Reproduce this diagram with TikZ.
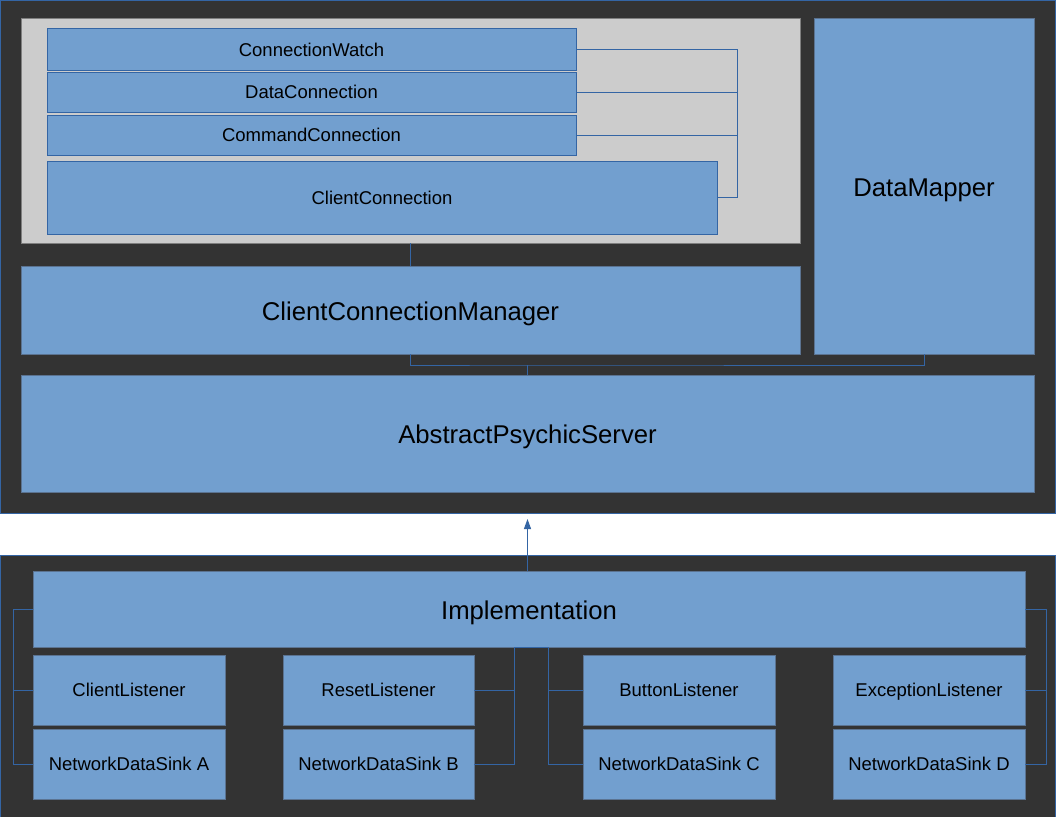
\documentclass[tikz,border=0pt]{standalone}
\usepackage{fontspec}
\setmainfont{Liberation Sans}
\usetikzlibrary{arrows.meta}
\definecolor{panel}{HTML}{333333}
\definecolor{boxfill}{HTML}{729FCF}
\definecolor{lineblue}{HTML}{3465A4}
\definecolor{edgegrey}{HTML}{5B7391}
\definecolor{greyfill}{HTML}{CCCCCC}
\definecolor{greyedge}{HTML}{7F7F7F}
\tikzset{
  basebox/.style={rectangle, fill=boxfill, inner sep=0pt, outer sep=0pt, line width=1pt, text=black},
  smalltext/.style={font=\fontsize{18.5}{20}\selectfont, text height=13.5pt, text depth=0pt},
  bigtext/.style={font=\fontsize{25.7}{28}\selectfont, text height=20pt, text depth=0pt},
  smallbox/.style={basebox, draw=lineblue, smalltext},
  listbox/.style={basebox, draw=edgegrey, smalltext},
  bigbox/.style={basebox, draw=edgegrey, bigtext},
  container/.style={rectangle, fill=greyfill, draw=greyedge, line width=1pt, inner sep=0pt, outer sep=0pt},
  conn/.style={draw=lineblue, line width=1pt},
  panelbox/.style={fill=panel, draw=lineblue, line width=1pt}
}
\begin{document}
\begin{tikzpicture}[x=1pt, y=-1pt]
\useasboundingbox (0,0) rectangle (1056,816);
\fill[white] (0,0) rectangle (1056,816);
% panels
\draw[panelbox] (0.5,0.5) rectangle (1055.5,513);
\draw[panelbox] (0.5,555) rectangle (1055.5,817);
% top group
\node[container, minimum width=779pt, minimum height=224pt] (grp) at (410.5,131) {};
\node[smallbox, minimum width=529pt, minimum height=41pt] (cw) at (311.5,49.5) {ConnectionWatch};
\node[smallbox, minimum width=529pt, minimum height=40pt] (dc) at (311.5,92) {DataConnection};
\node[smallbox, minimum width=529pt, minimum height=40pt] (cc) at (311.5,135) {CommandConnection};
\node[smallbox, minimum width=670pt, minimum height=73pt] (clc) at (382,197.5) {ClientConnection};
\node[bigbox, minimum width=779pt, minimum height=88pt] (ccm) at (410.5,310) {ClientConnectionManager};
\node[bigbox, minimum width=220pt, minimum height=335pt] (dm) at (924,186.5) {DataMapper};
\node[bigbox, minimum width=1013pt, minimum height=117pt] (aps) at (527.5,433.5) {AbstractPsychicServer};
% bottom group
\node[bigbox, minimum width=992pt, minimum height=76pt] (impl) at (529,609) {Implementation};
\node[listbox, minimum width=192pt, minimum height=70pt] (la) at (129,690) {ClientListener};
\node[listbox, minimum width=192pt, minimum height=70pt] (sa) at (129,764) {NetworkDataSink A};
\node[listbox, minimum width=191pt, minimum height=70pt] (lb) at (378.5,690) {ResetListener};
\node[listbox, minimum width=191pt, minimum height=70pt] (sb) at (378.5,764) {NetworkDataSink B};
\node[listbox, minimum width=192pt, minimum height=70pt] (lc) at (679,690) {ButtonListener};
\node[listbox, minimum width=192pt, minimum height=70pt] (sc) at (679,764) {NetworkDataSink C};
\node[listbox, minimum width=192pt, minimum height=70pt] (ld) at (929,690) {ExceptionListener};
\node[listbox, minimum width=192pt, minimum height=70pt] (sd) at (929,764) {NetworkDataSink D};
% connector coordinates
\coordinate (bus) at (737,0);
\coordinate (mid) at (527.5,365);
\coordinate (tip) at (527.5,519);
\coordinate (L) at (13,0);
\coordinate (R) at (1046,0);
\coordinate (ML) at (514,0);
\coordinate (MR) at (548,0);
% top connectors
\draw[conn] (cw.east) -- (cw.east -| bus) |- (clc.east);
\draw[conn] (dc.east) -- (dc.east -| bus);
\draw[conn] (cc.east) -- (cc.east -| bus);
\draw[conn] (grp.south) -- (ccm.north);
\draw[conn] (ccm.south) |- (mid) -| (dm.south);
\draw[conn] (mid) -- (aps.north);
% inheritance arrow
\draw[conn, -{Triangle[length=10pt,width=7pt]}] (impl.north -| tip) -- (tip);
% bottom connectors
\draw[conn] (impl.west) -- (impl.west -| L) |- (sa.west);
\draw[conn] (la.west) -- (la.west -| L);
\draw[conn] (impl.east) -- (impl.east -| R) |- (sd.east);
\draw[conn] (ld.east) -- (ld.east -| R);
\draw[conn] (impl.south) -- (impl.south -| ML) |- (sb.east);
\draw[conn] (lb.east) -- (lb.east -| ML);
\draw[conn] (impl.south) -- (impl.south -| MR) |- (sc.west);
\draw[conn] (lc.west) -- (lc.west -| MR);
\end{tikzpicture}
\end{document}
